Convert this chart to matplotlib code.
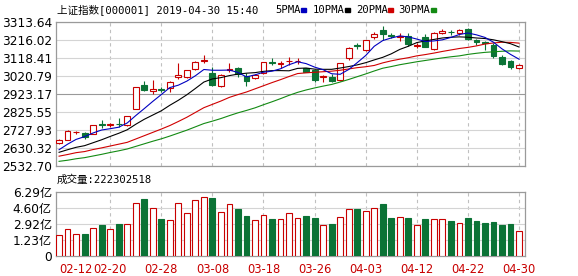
import numpy as np
import matplotlib.pyplot as plt
from matplotlib.patches import Rectangle

plt.rcParams['font.family'] = ['DejaVu Sans', 'Noto Sans CJK SC']

# trading days shown (2019)
dates = ['02-12', '02-13', '02-14', '02-15', '02-18', '02-19', '02-20', '02-21', '02-22',
         '02-25', '02-26', '02-27', '02-28', '03-01', '03-04', '03-05', '03-06', '03-07',
         '03-08', '03-11', '03-12', '03-13', '03-14', '03-15', '03-18', '03-19', '03-20',
         '03-21', '03-22', '03-25', '03-26', '03-27', '03-28', '03-29', '04-01', '04-02',
         '04-03', '04-04', '04-08', '04-09', '04-10', '04-11', '04-12', '04-15', '04-16',
         '04-17', '04-18', '04-19', '04-22', '04-23', '04-24', '04-25', '04-26', '04-29',
         '04-30']

opens = [2657, 2676, 2716, 2713, 2706, 2758, 2755, 2763, 2755, 2842, 2972, 2937, 2950, 2957,
         3016, 3017, 3059, 3103, 3039, 2968, 3054, 3066, 3021, 3008, 3035, 3098, 3088, 3100,
         3100, 3062, 3053, 3018, 3017, 2999, 3117, 3188, 3162, 3234, 3270, 3245, 3235, 3238,
         3186, 3230, 3169, 3254, 3262, 3254, 3277, 3215, 3205, 3191, 3122, 3100, 3064]
highs = [2677, 2728, 2723, 2716, 2757, 2780, 2768, 2791, 2804, 2961, 2995, 2999, 2963, 2993,
         3089, 3055, 3104, 3135, 3071, 3030, 3090, 3072, 3035, 3033, 3098, 3119, 3102, 3126,
         3117, 3065, 3058, 3026, 3030, 3093, 3176, 3198, 3218, 3258, 3290, 3256, 3252, 3252,
         3200, 3248, 3260, 3275, 3270, 3275, 3283, 3223, 3209, 3200, 3133, 3108, 3088]
lows = [2651, 2672, 2708, 2681, 2704, 2737, 2745, 2744, 2749, 2840, 2940, 2925, 2932, 2936,
        3006, 3012, 3054, 3092, 2969, 2962, 3041, 3017, 2968, 3003, 3030, 3080, 3066, 3080,
        3084, 3040, 2990, 2990, 2990, 2995, 3110, 3165, 3158, 3221, 3216, 3226, 3210, 3186,
        3173, 3176, 3163, 3248, 3244, 3244, 3218, 3187, 3160, 3120, 3081, 3060, 3060]
closes = [2674, 2722, 2719, 2690, 2755, 2753, 2760, 2758, 2802, 2959, 2943, 2952, 2944, 2990,
          3026, 3053, 3099, 3110, 2972, 3026, 3060, 3030, 2994, 3024, 3095, 3094, 3092, 3104,
          3104, 3044, 2999, 3022, 2996, 3090, 3172, 3184, 3216, 3248, 3246, 3240, 3239, 3192,
          3189, 3180, 3256, 3266, 3258, 3268, 3220, 3206, 3200, 3128, 3086, 3068, 3080]

ma5 = [2621, 2651, 2677, 2692, 2712, 2728, 2735, 2743, 2766, 2806, 2844, 2883, 2920, 2958,
       2971, 2993, 3022, 3056, 3052, 3052, 3053, 3040, 3016, 3027, 3041, 3047, 3060, 3082,
       3098, 3088, 3069, 3055, 3033, 3030, 3056, 3093, 3132, 3182, 3213, 3227, 3238, 3233,
       3221, 3208, 3211, 3217, 3230, 3246, 3254, 3244, 3230, 3204, 3168, 3138, 3112]
ma10 = [2607, 2621, 2634, 2643, 2659, 2675, 2693, 2710, 2729, 2759, 2786, 2809, 2832, 2862,
        2889, 2919, 2953, 2988, 3005, 3012, 3023, 3031, 3036, 3039, 3046, 3050, 3050, 3049,
        3062, 3064, 3058, 3057, 3057, 3064, 3072, 3081, 3093, 3108, 3122, 3141, 3165, 3182,
        3202, 3211, 3219, 3227, 3231, 3233, 3231, 3227, 3224, 3217, 3207, 3196, 3178]
ma20 = [2586, 2595, 2605, 2611, 2622, 2631, 2641, 2651, 2661, 2679, 2697, 2715, 2733, 2752,
        2774, 2797, 2823, 2849, 2867, 2885, 2905, 2920, 2934, 2951, 2968, 2985, 3001, 3018,
        3034, 3038, 3041, 3044, 3047, 3052, 3059, 3066, 3071, 3078, 3092, 3103, 3112, 3120,
        3130, 3137, 3145, 3154, 3162, 3170, 3176, 3184, 3194, 3200, 3204, 3203, 3199]
ma30 = [2558, 2564, 2572, 2578, 2587, 2596, 2606, 2615, 2625, 2639, 2653, 2667, 2680, 2695,
        2711, 2727, 2745, 2763, 2776, 2790, 2806, 2821, 2834, 2848, 2865, 2881, 2898, 2916,
        2932, 2945, 2956, 2966, 2975, 2988, 3002, 3017, 3032, 3048, 3063, 3072, 3082, 3090,
        3098, 3105, 3112, 3119, 3125, 3130, 3138, 3144, 3149, 3152, 3155, 3157, 3156]

# volume in 亿
volumes = [1.79, 2.35, 1.90, 1.90, 2.53, 2.85, 2.42, 2.95, 2.95, 5.17, 5.59, 4.64, 3.48, 3.37,
           5.17, 4.11, 5.48, 5.76, 5.69, 4.22, 5.06, 4.46, 3.72, 3.37, 3.90, 3.48, 3.48, 4.11,
           3.58, 3.72, 3.51, 2.85, 2.88, 3.69, 4.53, 4.46, 4.25, 4.64, 4.99, 3.58, 3.69, 3.51,
           2.85, 3.48, 3.48, 3.48, 3.23, 3.06, 3.51, 3.23, 3.06, 3.13, 2.85, 2.88, 2.22]

price_ticks = [2532.70, 2630.32, 2727.93, 2825.55, 2923.17, 3020.79, 3118.41, 3216.02, 3313.64]
vol_ticks = [-0.46, 1.23, 2.92, 4.60, 6.29]
vol_labels = ['0', '1.23亿', '2.92亿', '4.60亿', '6.29亿']
label_dates = ['02-12', '02-20', '02-28', '03-08', '03-18', '03-26', '04-03', '04-12', '04-22', '04-30']
ma_names = ['5PMA', '10PMA', '20PMA', '30PMA']
title = '上证指数[000001] 2019-04-30 15:40'
last_vol = '成交量:222302518'

RED = '#c80000'
GREEN = '#0b7336'
ma_colors = ['#0000c0', '#000000', '#d00000', '#138a13']
MONO = ['DejaVu Sans Mono', 'Noto Sans CJK SC']
W, H = 578, 276


def px(x0, y0, w, h):
    return [x0 / W, 1 - (y0 + h) / H, w / W, h / H]


fig = plt.figure(figsize=(W / 100, H / 100), dpi=100)
ax = fig.add_axes(px(56, 22, 469, 144))
axv = fig.add_axes(px(56, 192, 469, 64))

x = np.arange(len(dates))
o = np.array(opens)
c = np.array(closes)
up = c >= o
cols = [RED if u else GREEN for u in up]
faces = ['white' if u else GREEN for u in up]
grid_x = [dates.index(d) for d in label_dates[1:]]

# price panel
for xx in grid_x:
    ax.axvline(xx, color='#c0c0c0', lw=0.8, ls=(0, (3, 3)), zorder=0)
for i, t in enumerate(price_ticks):
    ax.axhline(t, color='#999999' if i == 4 else '#d4d4d4', lw=0.8, zorder=0)

ax.vlines(x, lows, highs, colors=cols, lw=0.8, zorder=3)
body_lo = np.minimum(o, c)
body_h = np.maximum(np.abs(c - o), 0.8)
ax.bar(x, body_h, 0.68, bottom=body_lo, color=faces, edgecolor=cols, lw=0.8, zorder=4)

for vals, col in zip([ma30, ma20, ma10, ma5], ma_colors[::-1]):
    ax.plot(x, vals, color=col, lw=0.8, zorder=5)

ax.set_xlim(-0.36, 54.7)
ax.set_ylim(price_ticks[0], price_ticks[-1])
ax.set_yticks(price_ticks)
ax.set_yticklabels(['%.2f' % t for t in price_ticks])
ax.set_xticks([])

# volume panel
for xx in grid_x:
    axv.axvline(xx, color='#c0c0c0', lw=0.8, ls=(0, (3, 3)), zorder=0)
for t in vol_ticks[1:-1]:
    axv.axhline(t, color='#d4d4d4', lw=0.8, zorder=0)
vb = vol_ticks[0]
axv.bar(x, np.array(volumes) - vb, 0.68, bottom=vb, color=faces, edgecolor=cols, lw=0.8, zorder=3)
axv.set_xlim(-0.36, 54.7)
axv.set_ylim(vol_ticks[0], vol_ticks[-1])
axv.set_yticks(vol_ticks)
axv.set_yticklabels(vol_labels)
axv.set_xticks([dates.index(d) for d in label_dates])
axv.set_xticklabels(label_dates, color=RED)
axv.get_xticklabels()[0].set_horizontalalignment('left')

for a in (ax, axv):
    a.tick_params(length=0, labelsize=8.7, pad=3)
    for s in a.spines.values():
        s.set_color('#9a9a9a')
        s.set_linewidth(0.9)
axv.tick_params(axis='x', labelsize=8.3, pad=5)

# header texts
fig.text(57 / W, 1 - 10 / H, title, fontsize=7.6, va='center', ha='left', family=MONO)
fig.text(57 / W, 1 - 180 / H, last_vol, fontsize=7.6, va='center', ha='left', family=MONO)
lx = [275, 313, 356, 398]
dx = [301, 345, 388, 431]
for name, col, l, d in zip(ma_names, ma_colors, lx, dx):
    fig.text(l / W, 1 - 10 / H, name, fontsize=7.6, va='center', ha='left', family=MONO)
    fig.add_artist(Rectangle((d / W, 1 - 11.5 / H), 5 / W, 3 / H, color=col,
                             transform=fig.transFigure))

fig.savefig('out.png', dpi=100)
